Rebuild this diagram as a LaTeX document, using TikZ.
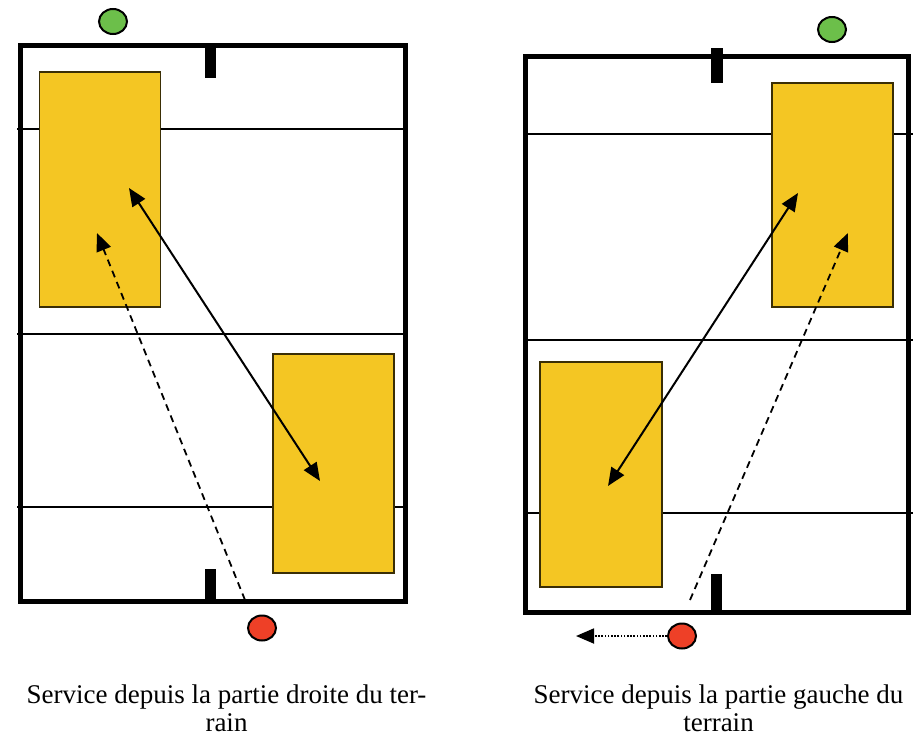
\documentclass[tikz,border=0pt]{standalone}
\usepackage{fontspec}
\setmainfont{Liberation Serif}
\usetikzlibrary{arrows.meta,shapes.geometric}
\definecolor{zoneyellow}{HTML}{F4C623}
\definecolor{zoneedge}{HTML}{3A2E05}
\definecolor{ballgreen}{HTML}{6CBF4A}
\definecolor{ballred}{HTML}{EE4027}
\tikzset{
  courtline/.style={line width=5pt, line join=miter},
  midline/.style={line width=2pt},
  zone/.style={draw=zoneedge, fill=zoneyellow, line width=1.5pt, inner sep=0pt, outer sep=0pt},
  ball/.style={ellipse, draw=black, line width=2pt, minimum width=28pt, minimum height=25pt, inner sep=0pt},
  post/.style={fill=black},
  tip/.style={-{Triangle[length=18pt,width=15pt]}},
  shot/.style={line width=2pt, {Triangle[length=18pt,width=15pt]}-{Triangle[length=18pt,width=15pt]}},
  serve/.style={line width=1.8pt, dash pattern=on 7pt off 5pt, tip},
  move/.style={line width=1.8pt, dash pattern=on 1.6pt off 1.6pt, tip},
  caption/.style={font=\fontsize{27}{29}\selectfont, anchor=base, inner sep=0pt}
}
\begin{document}
\begin{tikzpicture}[x=1pt,y=-1pt]
\useasboundingbox (0,0) rectangle (923,737);
% ---------- left court ----------
\draw[midline] (17,129) -- (407,129);
\draw[midline] (17,334) -- (407,334);
\draw[midline] (17,507) -- (407,507);
\node[zone, minimum width=121pt, minimum height=235pt] (zA) at (100,189.5) {};
\node[zone, minimum width=121pt, minimum height=219pt] (zB) at (333.5,463.5) {};
\draw[courtline] (20,45.5) rectangle (405,601.5);
\fill[post] (205,43) rectangle (216,78);
\fill[post] (205,569) rectangle (216,603);
\node[ball, fill=ballgreen] (gA) at (113,21.5) {};
\node[ball, fill=ballred] (rA) at (262,628) {};
\coordinate (sA1) at (129,188);
\coordinate (sA2) at (320,481);
\draw[shot] (sA1) -- (sA2);
\coordinate (dA0) at (245,600);
\coordinate (dA1) at (97,233);
\draw[serve] (dA0) -- (dA1);
% ---------- right court ----------
\draw[midline] (523,134) -- (913,134);
\draw[midline] (523,340) -- (913,340);
\draw[midline] (523,512.5) -- (913,512.5);
\node[zone, minimum width=121pt, minimum height=224pt] (zC) at (832.5,195) {};
\node[zone, minimum width=122pt, minimum height=225pt] (zD) at (601,474.5) {};
\draw[courtline] (525,56) rectangle (908.5,612);
\fill[post] (711,48) rectangle (723,83);
\fill[post] (711,574) rectangle (722,610);
\node[ball, fill=ballgreen] (gB) at (832,29.5) {};
\node[ball, fill=ballred] (rB) at (682,636) {};
\coordinate (sB1) at (798,193);
\coordinate (sB2) at (608,486);
\draw[shot] (sB1) -- (sB2);
\coordinate (dB0) at (690,600);
\coordinate (dB1) at (848,233);
\draw[serve] (dB0) -- (dB1);
\coordinate (mB) at (576,636);
\draw[move] (rB.west) -- (mB);
% ---------- captions ----------
\node[caption] (cA1) at (226.5,703) {Service depuis la partie droite du ter-};
\node[caption] (cA2) at (226.5,731) {rain};
\node[caption] (cB1) at (718.5,703) {Service depuis la partie gauche du};
\node[caption] (cB2) at (718.5,731) {terrain};
\end{tikzpicture}
\end{document}
